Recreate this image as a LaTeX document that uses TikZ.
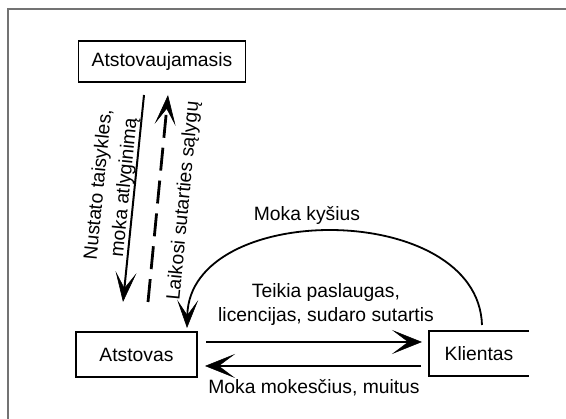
\documentclass[tikz,border=0pt]{standalone}
\usepackage{fontspec}
\setmainfont{Liberation Sans}
\usetikzlibrary{arrows.meta}
\begin{document}
\begin{tikzpicture}[x=1pt,y=-1pt,
  txt/.style={font=\fontsize{19.3}{24}\selectfont},
  box/.style={txt,draw,line width=1.8pt,inner sep=0pt},
  lbl/.style={txt,inner sep=0pt,align=center},
  head/.style={-{Stealth[length=30pt,width=24pt,inset=16pt,line width=0.6pt]}},
  big/.style={head,line width=2.8pt},
]
\useasboundingbox (0,0) rectangle (566,419);
\draw[black!55,line width=1.8pt] (8,419) -- (8,9) -- (566,9);
\node[box,minimum width=167pt,minimum height=41pt] (A) at (162,61.5) {Atstovaujamasis};
\node[box,minimum width=121pt,minimum height=45pt] (B) at (136.5,354.5) {Atstovas};
\node[txt,inner sep=0pt,minimum width=100pt,minimum height=45pt] (K) at (479,353.5) {Klientas};
\draw[line width=1.8pt] (K.north east) -- (K.north west) -- (K.south west) -- (K.south east);
\coordinate (s1) at (144,95); \coordinate (s2) at (123,302);
\coordinate (d1) at (148,302); \coordinate (d2) at (168,95);
\coordinate (h1) at (206,342); \coordinate (h2) at (422,342);
\coordinate (h3) at (421,366); \coordinate (h4) at (205,366);
\coordinate (c1) at (482,325); \coordinate (c2) at (187,328);
\draw[-{Stealth[length=30pt,width=21pt,inset=16pt,line width=0.6pt]},line width=2pt] (s1) -- (s2);
\draw[-{Stealth[length=30pt,width=21pt,inset=16pt,line width=0.6pt]},line width=2.8pt,dash pattern=on 23pt off 10pt] (d1) -- (d2);
\draw[big] (h1) -- (h2);
\draw[big] (h3) -- (h4);
\draw[-{Stealth[length=28pt,width=21pt,inset=15pt,line width=0.6pt]},line width=1.8pt] (c1) .. controls (478,200) and (190,200) .. (c2);
\node[lbl] (kys) at (307,215) {Moka kyšius};
\node[lbl] (teik) at (326,304.5) {Teikia paslaugas,\\licencijas, sudaro sutartis};
\node[lbl] (mok) at (314,388) {Moka mokesčius, muitus};
\node[lbl,rotate=84.3,font=\fontsize{19.3}{26}\selectfont] (nus) at (112,186) {Nustato taisykles,\\moka atlyginimą};
\node[lbl,rotate=84.5] (laik) at (184,201) {Laikosi sutarties sąlygų};
\end{tikzpicture}
\end{document}
